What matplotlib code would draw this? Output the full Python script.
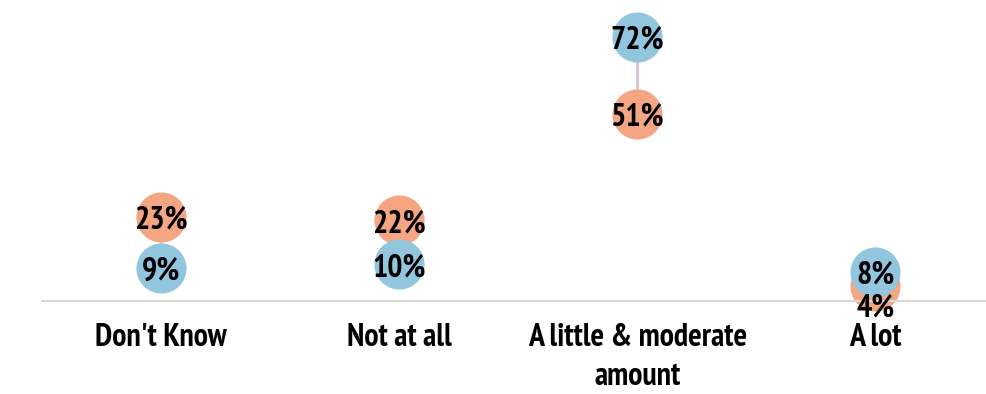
import matplotlib.pyplot as plt
from matplotlib import font_manager

# data
categories = ["Don't Know", "Not at all", "A little & moderate\namount", "A lot"]
orange_vals = [23, 22, 51, 4]
blue_vals = [9, 10, 72, 8]

orange = '#F4A582'
blue = '#92C5DE'

# look for a narrow bold face (prefer Liberation Sans Narrow)
bolds = [f for f in font_manager.fontManager.ttflist if f.weight in ('bold', 700)]
narrow = None
for key in ('narrow', 'condensed'):
    for f in bolds:
        if key in (f.name + ' ' + str(f.stretch) + ' ' + f.fname).lower() and 'italic' not in f.style and 'oblique' not in f.style:
            narrow = f.fname
            break
    if narrow:
        break

if narrow:
    fp = font_manager.FontProperties(fname=narrow, size=23)
else:
    fp = font_manager.FontProperties(family='DejaVu Sans', weight='bold', stretch='condensed', size=20)

fig = plt.figure(figsize=(9.87, 3.94), dpi=100)
ax = fig.add_axes([0.0426, 0.236, 0.965, 0.764])

x = range(len(categories))

# connecting lines
for i in x:
    ax.plot([i, i], [orange_vals[i], blue_vals[i]], color='#D8C3D3', lw=2, zorder=1)

ax.scatter(x, orange_vals, s=1300, color=orange, zorder=2, linewidths=0, clip_on=False)
ax.scatter(x, blue_vals, s=1300, color=blue, zorder=3, linewidths=0, clip_on=False)

# value labels
for i in x:
    ax.annotate(f'{blue_vals[i]}%', (i, blue_vals[i]), xytext=(0, -3), textcoords='offset points',
                ha='center', va='center', fontproperties=fp, zorder=5)
    dy = -16 if abs(orange_vals[i] - blue_vals[i]) < 8 and orange_vals[i] < blue_vals[i] else -3
    ax.annotate(f'{orange_vals[i]}%', (i, orange_vals[i]), xytext=(0, dy), textcoords='offset points',
                ha='center', va='center', fontproperties=fp, zorder=5)

ax.set_xlim(-0.5, 3.5)
ax.set_ylim(0, 82)
ax.set_xticks(list(x))
ax.set_xticklabels(categories, fontproperties=fp, linespacing=1.4)
ax.tick_params(axis='x', length=0, pad=16)
ax.set_yticks([])

for s in ['top', 'left', 'right']:
    ax.spines[s].set_visible(False)
ax.spines['bottom'].set_color('#D9D9D9')
ax.spines['bottom'].set_linewidth(1.5)

fig.savefig('out.png', dpi=100)
